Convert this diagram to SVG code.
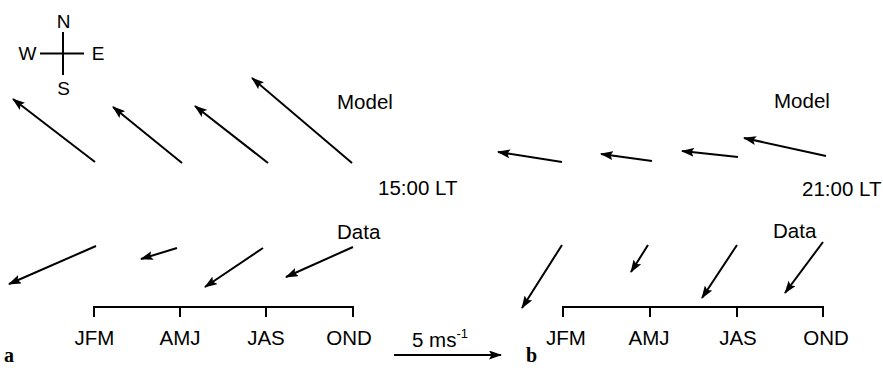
<svg xmlns="http://www.w3.org/2000/svg" width="883" height="368" viewBox="0 0 883 368">
<defs>
<marker id="ah" markerUnits="userSpaceOnUse" markerWidth="13" markerHeight="9" viewBox="0 0 13 9" refX="12" refY="4.5" orient="auto">
<path d="M0,0 L13,4.5 L0,9 L2.5,4.5 z" fill="#000"/>
</marker>
</defs>
<style>
text{font-family:"Liberation Sans",Arial,sans-serif;font-size:20.5px;fill:#000}
.c{font-size:19px;text-anchor:middle}
.m{text-anchor:middle}
.p{font-family:"Liberation Serif","Times New Roman",serif;font-weight:bold;font-size:20px}
.v{stroke:#000;stroke-width:2;fill:none;marker-end:url(#ah)}
.ax{stroke:#000;stroke-width:2;fill:none}
</style>
<rect width="883" height="368" fill="#fff"/>
<g id="compass">
<path class="ax" d="M63,32 V75 M40,53.5 H84" stroke-width="1.6"/>
<text class="c" x="63.5" y="28">N</text>
<text class="c" x="27.5" y="60">W</text>
<text class="c" x="98" y="60">E</text>
<text class="c" x="63.5" y="95">S</text>
</g>
<g id="labels-a">
<text x="337" y="109">Model</text>
<text x="378" y="195">15:00 LT</text>
<text x="337" y="239">Data</text>
</g>
<g id="labels-b">
<text x="774" y="108">Model</text>
<text x="802" y="196">21:00 LT</text>
<text x="773" y="238">Data</text>
</g>
<g id="axis-a">
<path class="ax" d="M94,317 V307 H353 V317 M180,307 V317 M266,307 V317"/>
<text class="m" x="94.5" y="345">JFM</text>
<text class="m" x="180" y="345">AMJ</text>
<text class="m" x="266" y="345">JAS</text>
<text class="m" x="349" y="345">OND</text>
</g>
<g id="axis-b">
<path class="ax" d="M563,317 V307 H823 V317 M650,307 V317 M737,307 V317"/>
<text class="m" x="566" y="345">JFM</text>
<text class="m" x="649" y="345">AMJ</text>
<text class="m" x="738" y="345">JAS</text>
<text class="m" x="826" y="345">OND</text>
</g>
<g id="scale">
<text x="412" y="347">5 ms<tspan font-size="13" dy="-9">-1</tspan></text>
</g>
<g id="panel-labels">
<text class="p" x="4" y="362">a</text>
<text class="p" x="526" y="362">b</text>
</g>
<g id="connectors">
<line class="v" x1="95" y1="162" x2="13" y2="99"/>
<line class="v" x1="182" y1="163" x2="113" y2="107"/>
<line class="v" x1="268" y1="163" x2="195" y2="106"/>
<line class="v" x1="352" y1="163" x2="252" y2="78"/>
<line class="v" x1="562" y1="162" x2="498" y2="152"/>
<line class="v" x1="652" y1="161" x2="601" y2="154"/>
<line class="v" x1="738" y1="157" x2="682" y2="151"/>
<line class="v" x1="826" y1="156" x2="744" y2="138"/>
<line class="v" x1="96" y1="246" x2="9" y2="284"/>
<line class="v" x1="177" y1="248" x2="141" y2="259"/>
<line class="v" x1="263" y1="248" x2="205" y2="287"/>
<line class="v" x1="353" y1="247" x2="286" y2="277"/>
<line class="v" x1="562" y1="245" x2="522" y2="308"/>
<line class="v" x1="648" y1="245" x2="631" y2="272"/>
<line class="v" x1="737" y1="245" x2="702" y2="298"/>
<line class="v" x1="823" y1="242" x2="785" y2="293"/>
<line class="v" x1="394" y1="355" x2="501" y2="355" stroke-width="1.6"/>
</g>
</svg>
